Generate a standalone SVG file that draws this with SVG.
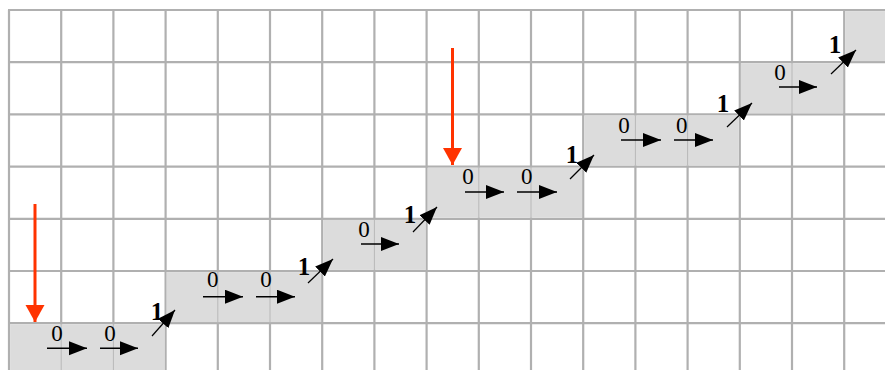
<svg xmlns="http://www.w3.org/2000/svg" width="885" height="370" viewBox="0 0 885 370">
<defs>
<style>
.grid line{stroke:#b0b0b0;stroke-width:2.2}
.inner{stroke:#b8b8b8;stroke-width:1}
.blk{fill:#dcdcdc}
.h{stroke:#000;stroke-width:1.5;marker-end:url(#ah)}
.d{stroke:#000;stroke-width:1.2;marker-end:url(#ah)}
.red{stroke:#ff3300;stroke-width:3;marker-end:url(#rh)}
.z{font-family:"Liberation Serif","Times New Roman",serif;font-size:23px;text-anchor:middle;fill:#000}
.o{font-family:"Liberation Serif","Times New Roman",serif;font-size:25px;font-weight:bold;text-anchor:middle;fill:#000}
</style>
<marker id="ah" markerUnits="userSpaceOnUse" markerWidth="19" markerHeight="15" refX="18" refY="7" orient="auto" viewBox="0 0 19 15">
<path d="M0,0 L18,7 L0,14 Z" fill="#000"/>
</marker>
<marker id="rh" markerUnits="userSpaceOnUse" markerWidth="18" markerHeight="20" refX="17" refY="9.5" orient="auto" viewBox="0 0 18 20">
<path d="M0,0 L17,9.5 L0,19 Z" fill="#ff3300"/>
</marker>
</defs>
<rect width="885" height="370" fill="#fff"/>
<g id="grid" class="grid">
<line x1="9" y1="10" x2="9" y2="370"/>
<line x1="61.2" y1="10" x2="61.2" y2="370"/>
<line x1="113.4" y1="10" x2="113.4" y2="370"/>
<line x1="165.6" y1="10" x2="165.6" y2="370"/>
<line x1="217.8" y1="10" x2="217.8" y2="370"/>
<line x1="270" y1="10" x2="270" y2="370"/>
<line x1="322.2" y1="10" x2="322.2" y2="370"/>
<line x1="374.4" y1="10" x2="374.4" y2="370"/>
<line x1="426.6" y1="10" x2="426.6" y2="370"/>
<line x1="478.8" y1="10" x2="478.8" y2="370"/>
<line x1="531" y1="10" x2="531" y2="370"/>
<line x1="583.2" y1="10" x2="583.2" y2="370"/>
<line x1="635.4" y1="10" x2="635.4" y2="370"/>
<line x1="687.6" y1="10" x2="687.6" y2="370"/>
<line x1="739.8" y1="10" x2="739.8" y2="370"/>
<line x1="792" y1="10" x2="792" y2="370"/>
<line x1="844.2" y1="10" x2="844.2" y2="370"/>
<line x1="8" y1="10" x2="885" y2="10"/>
<line x1="8" y1="62.2" x2="885" y2="62.2"/>
<line x1="8" y1="114.4" x2="885" y2="114.4"/>
<line x1="8" y1="166.6" x2="885" y2="166.6"/>
<line x1="8" y1="218.8" x2="885" y2="218.8"/>
<line x1="8" y1="271" x2="885" y2="271"/>
<line x1="8" y1="323.2" x2="885" y2="323.2"/>
</g>
<g id="path-cells">
<rect class="blk" x="10.1" y="324.3" width="154.4" height="46"/>
<rect class="blk" x="166.7" y="272.1" width="154.4" height="50"/>
<rect class="blk" x="323.3" y="219.9" width="102.2" height="50"/>
<rect class="blk" x="427.7" y="167.7" width="154.4" height="50"/>
<rect class="blk" x="584.3" y="115.5" width="154.4" height="50"/>
<rect class="blk" x="740.9" y="63.3" width="102.2" height="50"/>
<rect class="blk" x="845.3" y="11.1" width="40" height="50"/>
<line class="inner" x1="61.2" y1="324" x2="61.2" y2="370"/>
<line class="inner" x1="113.4" y1="324" x2="113.4" y2="370"/>
<line class="inner" x1="217.8" y1="272" x2="217.8" y2="322.2"/>
<line class="inner" x1="270" y1="272" x2="270" y2="322.2"/>
<line class="inner" x1="374.4" y1="219.8" x2="374.4" y2="270"/>
<line class="inner" x1="478.8" y1="167.6" x2="478.8" y2="217.8"/>
<line class="inner" x1="531" y1="167.6" x2="531" y2="217.8"/>
<line class="inner" x1="635.4" y1="115.4" x2="635.4" y2="165.6"/>
<line class="inner" x1="687.6" y1="115.4" x2="687.6" y2="165.6"/>
<line class="inner" x1="792" y1="63.2" x2="792" y2="113.4"/>
</g>
<g id="connectors">
<line class="h" x1="47" y1="348.3" x2="87" y2="348.3"/>
<line class="h" x1="100" y1="348.3" x2="138" y2="348.3"/>
<line class="d" x1="152" y1="336" x2="175" y2="310"/>
<line class="h" x1="203" y1="296.7" x2="243" y2="296.7"/>
<line class="h" x1="256" y1="296.7" x2="295" y2="296.7"/>
<line class="d" x1="308" y1="283" x2="333" y2="259"/>
<line class="h" x1="361" y1="244" x2="399" y2="244"/>
<line class="d" x1="413" y1="232" x2="437" y2="207"/>
<line class="h" x1="465" y1="192" x2="504" y2="192"/>
<line class="h" x1="517" y1="192" x2="557" y2="192"/>
<line class="d" x1="570" y1="179" x2="594" y2="155"/>
<line class="h" x1="621" y1="140" x2="661" y2="140"/>
<line class="h" x1="674" y1="140" x2="713" y2="140"/>
<line class="d" x1="727" y1="127" x2="752" y2="103"/>
<line class="h" x1="779" y1="87" x2="817" y2="87"/>
<line class="d" x1="831" y1="74" x2="856" y2="50"/>
<line class="red" x1="35" y1="204" x2="35" y2="322"/>
<line class="red" x1="452.5" y1="48" x2="452.5" y2="165"/>
</g>
<g id="labels">
<text class="z" x="57" y="341">0</text>
<text class="z" x="110" y="341">0</text>
<text class="o" x="157" y="320">1</text>
<text class="z" x="212.7" y="286.7">0</text>
<text class="z" x="266" y="286.7">0</text>
<text class="o" x="304" y="275">1</text>
<text class="z" x="364" y="236.7">0</text>
<text class="o" x="410" y="223.3">1</text>
<text class="z" x="468" y="184.3">0</text>
<text class="z" x="526.7" y="184.3">0</text>
<text class="o" x="572" y="163">1</text>
<text class="z" x="624" y="132.7">0</text>
<text class="z" x="681.7" y="132.7">0</text>
<text class="o" x="723" y="111.7">1</text>
<text class="z" x="780" y="80">0</text>
<text class="o" x="835" y="53">1</text>
</g>
</svg>
